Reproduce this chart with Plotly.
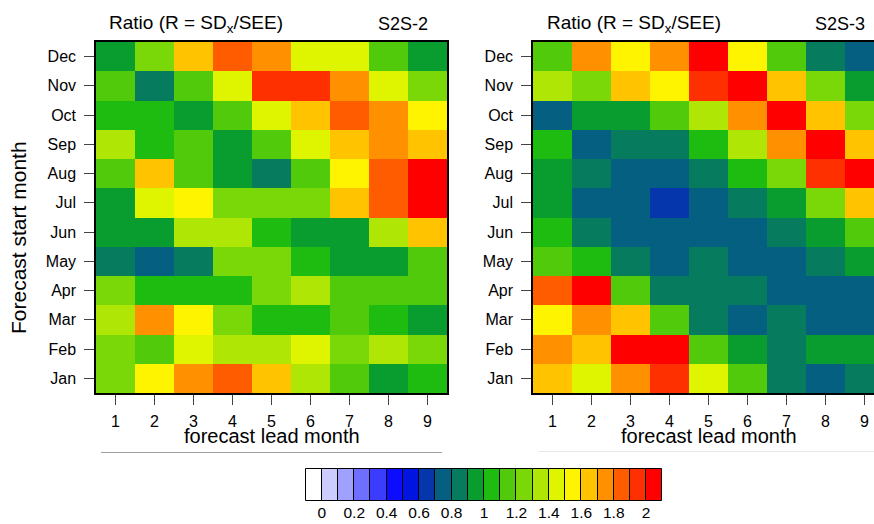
import plotly.graph_objects as go

W, H = 874, 524

months = ["Jan", "Feb", "Mar", "Apr", "May", "Jun", "Jul", "Aug", "Sep", "Oct", "Nov", "Dec"]
leads = [1, 2, 3, 4, 5, 6, 7, 8, 9]

# S2S-2 ratio, rows Jan..Dec, columns lead 1..9
s2s2 = [
    [1.25, 1.55, 1.75, 1.85, 1.65, 1.35, 1.15, 0.95, 1.05],  # Jan
    [1.25, 1.15, 1.45, 1.35, 1.35, 1.45, 1.25, 1.35, 1.25],  # Feb
    [1.35, 1.75, 1.55, 1.25, 1.05, 1.05, 1.15, 1.05, 0.95],  # Mar
    [1.25, 1.05, 1.05, 1.05, 1.25, 1.35, 1.15, 1.15, 1.15],  # Apr
    [0.85, 0.75, 0.85, 1.25, 1.25, 1.05, 0.95, 0.95, 1.15],  # May
    [0.95, 0.95, 1.35, 1.35, 1.05, 0.95, 0.95, 1.35, 1.65],  # Jun
    [0.95, 1.45, 1.55, 1.25, 1.25, 1.25, 1.65, 1.85, 2.05],  # Jul
    [1.15, 1.65, 1.15, 0.95, 0.85, 1.15, 1.55, 1.85, 2.05],  # Aug
    [1.35, 1.05, 1.15, 0.95, 1.15, 1.45, 1.65, 1.75, 1.65],  # Sep
    [1.05, 1.05, 0.95, 1.15, 1.45, 1.65, 1.85, 1.75, 1.55],  # Oct
    [1.15, 0.85, 1.15, 1.45, 1.95, 1.95, 1.75, 1.45, 1.25],  # Nov
    [0.95, 1.25, 1.65, 1.85, 1.75, 1.45, 1.45, 1.15, 0.95],  # Dec
]

# S2S-3 ratio, rows Jan..Dec, columns lead 1..9
s2s3 = [
    [1.65, 1.45, 1.75, 1.95, 1.45, 1.15, 0.85, 0.75, 0.85],  # Jan
    [1.75, 1.65, 2.05, 2.05, 1.15, 0.95, 0.85, 0.95, 0.95],  # Feb
    [1.55, 1.75, 1.65, 1.15, 0.85, 0.75, 0.85, 0.75, 0.75],  # Mar
    [1.85, 2.05, 1.15, 0.85, 0.85, 0.85, 0.75, 0.75, 0.75],  # Apr
    [1.15, 1.05, 0.85, 0.75, 0.85, 0.75, 0.75, 0.85, 0.95],  # May
    [1.05, 0.85, 0.75, 0.75, 0.75, 0.75, 0.85, 0.95, 1.15],  # Jun
    [0.95, 0.75, 0.75, 0.65, 0.75, 0.85, 0.95, 1.25, 1.65],  # Jul
    [0.95, 0.85, 0.75, 0.75, 0.85, 1.05, 1.25, 1.95, 2.05],  # Aug
    [1.05, 0.75, 0.85, 0.85, 1.05, 1.35, 1.75, 2.05, 1.65],  # Sep
    [0.75, 0.95, 0.95, 1.15, 1.35, 1.75, 2.05, 1.65, 1.25],  # Oct
    [1.35, 1.25, 1.65, 1.55, 1.95, 2.05, 1.65, 1.25, 0.95],  # Nov
    [1.15, 1.75, 1.55, 1.75, 2.05, 1.55, 1.15, 0.85, 0.75],  # Dec
]

# discrete palette: below 0, 0-0.1, ..., 1.9-2.0, above 2
palette = ["#FFFFFF", "#CCCCFF", "#A0A0FF", "#6E6EFF", "#3C3CFF", "#0C0CFF",
           "#0016E0", "#0536AC", "#055F80", "#077B5D", "#089D2E", "#1EBB10",
           "#50CA0A", "#7AD708", "#AFE605", "#DFF500", "#FFF400", "#FFC300",
           "#FF9000", "#FF5C00", "#FF3000", "#FF0000"]
bin_centers = [round(-0.05 + 0.1 * i, 2) for i in range(22)]
cbar_ticks = [0, 0.2, 0.4, 0.6, 0.8, 1, 1.2, 1.4, 1.6, 1.8, 2]
cbar_ticktext = ["0", "0.2", "0.4", "0.6", "0.8", "1", "1.2", "1.4", "1.6", "1.8", "2"]

ZMIN, ZMAX = -0.1, 2.1
n = len(palette)
cscale = []
for i, c in enumerate(palette):
    cscale.append([i / n, c])
    cscale.append([(i + 1) / n, c])

FONT = "Liberation Sans, Arial, sans-serif"

fig = go.Figure()
fig.add_trace(go.Heatmap(z=s2s2, x=leads, y=months, colorscale=cscale, zmin=ZMIN, zmax=ZMAX,
                         showscale=False, xaxis="x", yaxis="y"))
fig.add_trace(go.Heatmap(z=s2s3, x=leads, y=months, colorscale=cscale, zmin=ZMIN, zmax=ZMAX,
                         showscale=False, xaxis="x2", yaxis="y2"))
fig.add_trace(go.Bar(x=bin_centers, y=[1] * n, width=0.1,
                     marker=dict(color=palette, line=dict(color="black", width=1)),
                     xaxis="x3", yaxis="y3", showlegend=False, hoverinfo="skip"))

def px_x(p):
    return p / W

def px_y(p):
    return 1 - p / H

left_x0, left_x1 = 96, 447
right_x0 = 533
cell_w = (left_x1 - left_x0) / 9
top, bot = 42, 393
ydom = [px_y(bot), px_y(top)]

axis_common = dict(showline=True, linecolor="black", linewidth=1.5, ticks="outside",
                   ticklen=10, tickwidth=1, tickcolor="#444",
                   tickfont=dict(family=FONT, size=16, color="black"),
                   showgrid=False, zeroline=False)

# colourbar strip: pad a little so the outline is not clipped
cb_x0, cb_x1, cb_top, cb_bot = 306, 662, 469, 501
padx = 0.01
pady = 0.04

fig.update_layout(
    width=W, height=H, margin=dict(l=0, r=0, t=0, b=0),
    paper_bgcolor="white", plot_bgcolor="white",
    font=dict(family=FONT, color="black"),
    showlegend=False, bargap=0,
    xaxis=dict(domain=[px_x(left_x0), px_x(left_x1)], range=[0.5, 9.5], tickvals=leads,
               mirror=True, anchor="y", ticklabelstandoff=3, **axis_common),
    yaxis=dict(domain=ydom, range=[-0.5, 11.5], mirror=True, anchor="x",
               ticklabelstandoff=5, type="category", **axis_common),
    xaxis2=dict(domain=[px_x(right_x0), 1.0],
                range=[0.5, 0.5 + (W - right_x0) / cell_w], tickvals=leads,
                mirror=True, anchor="y2", ticklabelstandoff=3, **axis_common),
    yaxis2=dict(domain=ydom, range=[-0.5, 11.5], mirror=False, anchor="x2",
                ticklabelstandoff=5, type="category", **axis_common),
    xaxis3=dict(domain=[px_x(cb_x0 - 2), px_x(cb_x1 + 2)], range=[-0.1 - padx, 2.1 + padx],
                anchor="y3", tickvals=cbar_ticks, ticktext=cbar_ticktext, showline=False,
                showgrid=False, zeroline=False, ticks="", ticklabelstandoff=-1,
                tickfont=dict(family=FONT, size=15.5, color="black")),
    yaxis3=dict(domain=[px_y(cb_bot + 1), px_y(cb_top - 1)], range=[-pady, 1 + pady],
                anchor="x3", visible=False),
)

anns = []
for x0, name, nx in [(107, "S2S-2", 430), (545, "S2S-3", 867)]:
    anns.append(dict(text="Ratio (R = SD<sub>x</sub>/SEE)", x=px_x(x0), y=px_y(24),
                     xref="paper", yref="paper", xanchor="left", yanchor="middle",
                     showarrow=False, font=dict(family=FONT, size=19, color="black")))
    anns.append(dict(text=name, x=px_x(nx), y=px_y(24), xref="paper", yref="paper",
                     xanchor="right", yanchor="middle", showarrow=False,
                     font=dict(family=FONT, size=18, color="black")))
for cx in [(left_x0 + left_x1) / 2, right_x0 + 9 * cell_w / 2]:
    anns.append(dict(text="forecast lead month", x=px_x(cx), y=px_y(436), xref="paper",
                     yref="paper", xanchor="center", yanchor="middle", showarrow=False,
                     font=dict(family=FONT, size=20, color="black")))
anns.append(dict(text="Forecast start month", x=px_x(19), y=px_y(238), xref="paper",
                 yref="paper", xanchor="center", yanchor="middle", textangle=-90,
                 showarrow=False, font=dict(family=FONT, size=21, color="black")))
fig.update_layout(annotations=anns)

fig.update_layout(shapes=[
    dict(type="line", xref="paper", yref="paper", x0=px_x(101), x1=px_x(442),
         y0=px_y(452.5), y1=px_y(452.5), line=dict(color="#A0A0A0", width=1)),
    dict(type="line", xref="paper", yref="paper", x0=px_x(538), x1=1.0,
         y0=px_y(451.5), y1=px_y(451.5), line=dict(color="#E8E8E8", width=1)),
])

fig.write_html("out.html")
